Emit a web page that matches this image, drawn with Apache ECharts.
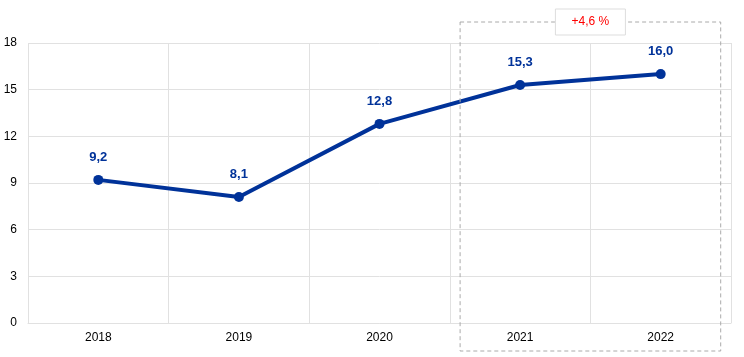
<!DOCTYPE html>
<html>
<head>
<meta charset="utf-8">
<script src="https://cdn.jsdelivr.net/npm/echarts@6/dist/echarts.min.js"></script>
<style>
  html, body { margin: 0; padding: 0; background: #fff; }
  #chart { width: 744px; height: 357px; }
</style>
</head>
<body>
<div id="chart"></div>
<script>
var years = ['2018', '2019', '2020', '2021', '2022'];
var values = [9.2, 8.1, 12.8, 15.3, 16.0];
var yTicks = [0, 3, 6, 9, 12, 15, 18];
var changeLabel = '+4,6 %';

var blue = '#003299';
var gridColor = '#e1e1e1';

var chart = echarts.init(document.getElementById('chart'));

var option = {
    animation: false,
    grid: {
        left: 28,
        right: 13,
        top: 43,
        bottom: 34
    },
    xAxis: {
        type: 'category',
        data: years,
        boundaryGap: true,
        axisLine: { show: true, lineStyle: { color: gridColor } },
        axisTick: { show: false },
        splitLine: { show: true, lineStyle: { color: gridColor } },
        axisLabel: {
            color: '#000',
            fontFamily: 'Liberation Sans',
            fontSize: 12,
            margin: 9
        }
    },
    yAxis: {
        type: 'value',
        min: yTicks[0],
        max: yTicks[yTicks.length - 1],
        interval: 3,
        axisLine: { show: false },
        axisTick: { show: false },
        splitLine: { show: true, lineStyle: { color: gridColor } },
        axisLabel: {
            color: '#000',
            fontFamily: 'Liberation Sans',
            fontSize: 12,
            margin: 11
        }
    },
    series: [
        {
            type: 'line',
            data: values,
            symbol: 'circle',
            symbolSize: 10,
            lineStyle: { color: blue, width: 4 },
            itemStyle: { color: blue },
            label: {
                show: true,
                position: 'top',
                distance: 11,
                color: blue,
                fontFamily: 'Liberation Sans',
                fontWeight: 'bold',
                fontSize: 13,
                formatter: function (p) {
                    return p.value.toFixed(1).replace('.', ',');
                }
            }
        }
    ]
};

chart.setOption(option);

// dashed box round the last two years, with the change label on top
var p1 = chart.convertToPixel({ xAxisIndex: 0 }, years[3]);
var p2 = chart.convertToPixel({ xAxisIndex: 0 }, years[4]);
var half = 60;
var boxLeft = p1 - half;
var boxRight = p2 + half;
var boxTop = 22;
var boxBottom = 351;
var mid = (boxLeft + boxRight) / 2;

chart.setOption({
    graphic: [
        {
            type: 'rect',
            shape: { x: boxLeft, y: boxTop, width: boxRight - boxLeft, height: boxBottom - boxTop },
            style: { fill: 'none', stroke: '#aaaaaa', lineWidth: 1, lineDash: [4, 3] },
            z: 10
        },
        {
            type: 'rect',
            shape: { x: mid - 35, y: 9, width: 70, height: 26 },
            style: { fill: '#fff', stroke: '#dddddd', lineWidth: 1 },
            z: 11
        },
        {
            type: 'text',
            x: mid,
            y: 22,
            style: {
                text: changeLabel,
                fill: '#ff0000',
                font: '12px "Liberation Sans"',
                align: 'center',
                verticalAlign: 'middle'
            },
            z: 12
        }
    ]
});
</script>
</body>
</html>
